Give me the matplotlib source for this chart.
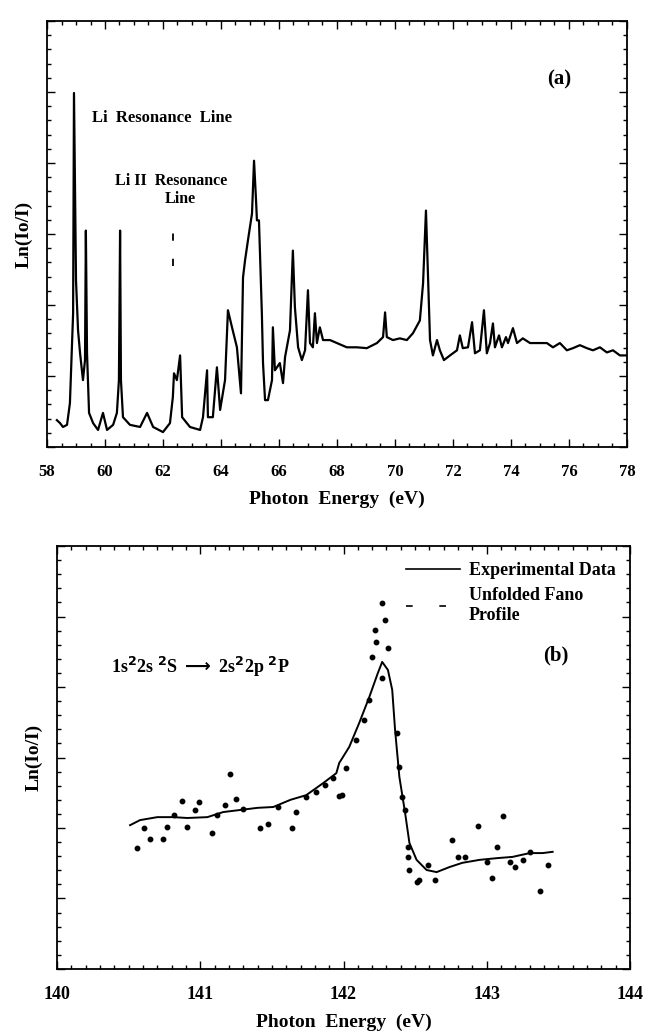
import matplotlib
matplotlib.use('Agg')
import matplotlib.pyplot as plt
from matplotlib.lines import Line2D
from matplotlib.ticker import MultipleLocator
import numpy as np

# panel (a): absorption spectrum 58-78 eV (arbitrary units, 0..10)
energy_a = [58.34, 58.45, 58.55, 58.69, 58.79, 58.90, 58.93, 58.97, 59.00, 59.07,
            59.14, 59.24, 59.31, 59.34, 59.38, 59.45, 59.59, 59.76, 59.93, 60.07,
            60.28, 60.41, 60.48, 60.52, 60.55, 60.62, 60.86, 61.21, 61.45, 61.66,
            62.00, 62.24, 62.34, 62.38, 62.48, 62.59, 62.66, 62.93, 63.28, 63.38,
            63.52, 63.55, 63.72, 63.86, 63.97, 64.14, 64.24, 64.38, 64.55, 64.69,
            64.76, 64.83, 64.93, 65.07, 65.14, 65.21, 65.24, 65.31, 65.41, 65.45,
            65.52, 65.62, 65.76, 65.79, 65.86, 66.03, 66.14, 66.21, 66.38, 66.48,
            66.55, 66.66, 66.79, 66.90, 67.00, 67.07, 67.17, 67.24, 67.31, 67.41,
            67.52, 67.76, 68.00, 68.34, 68.69, 69.03, 69.38, 69.59, 69.66, 69.72,
            69.93, 70.17, 70.41, 70.62, 70.86, 70.97, 71.07, 71.14, 71.21, 71.31,
            71.45, 71.55, 71.69, 71.90, 72.14, 72.24, 72.34, 72.52, 72.66, 72.76,
            72.93, 73.07, 73.17, 73.28, 73.38, 73.45, 73.59, 73.69, 73.83, 73.90,
            74.07, 74.21, 74.41, 74.66, 75.00, 75.24, 75.45, 75.69, 75.93, 76.14,
            76.38, 76.62, 76.83, 77.07, 77.31, 77.52, 77.76, 78.00]
lnI_a = [0.63, 0.56, 0.47, 0.52, 1.03, 3.14, 8.31, 5.78, 3.91, 2.74,
         2.20, 1.57, 2.04, 5.08, 2.20, 0.80, 0.56, 0.40, 0.80, 0.40,
         0.52, 0.80, 1.57, 5.08, 1.57, 0.70, 0.52, 0.47, 0.80, 0.47,
         0.35, 0.56, 1.17, 1.73, 1.57, 2.15, 0.70, 0.47, 0.40, 0.70,
         1.80, 0.70, 0.70, 1.87, 0.87, 1.57, 3.21, 2.81, 2.34, 1.26,
         3.98, 4.38, 4.85, 5.48, 6.72, 5.78, 5.32, 5.32, 3.14, 1.97,
         1.10, 1.10, 1.57, 2.81, 1.80, 1.97, 1.50, 2.11, 2.74, 4.61,
         3.28, 2.34, 2.04, 2.27, 3.68, 2.44, 2.34, 3.14, 2.44, 2.81,
         2.51, 2.51, 2.44, 2.34, 2.34, 2.32, 2.44, 2.58, 3.16, 2.58,
         2.51, 2.55, 2.51, 2.67, 2.97, 3.84, 5.55, 4.07, 2.51, 2.15,
         2.51, 2.27, 2.04, 2.15, 2.27, 2.62, 2.32, 2.34, 2.93, 2.20,
         2.27, 3.21, 2.20, 2.44, 2.90, 2.34, 2.62, 2.34, 2.58, 2.44,
         2.79, 2.44, 2.55, 2.44, 2.44, 2.44, 2.34, 2.44, 2.27, 2.32,
         2.39, 2.32, 2.27, 2.34, 2.22, 2.27, 2.15, 2.15]
li2_marker_E = 62.34
li2_marker_y = [4.24, 5.03]
xticks_a = [58, 60, 62, 64, 66, 68, 70, 72, 74, 76, 78]

# panel (b): 1s2 2s 2S -> 2s2 2p 2P resonance
energy_exp = [140.51, 140.58, 140.70, 140.81, 140.91, 141.05, 141.16, 141.28, 141.40,
              141.51, 141.63, 141.74, 141.86, 141.95, 141.97, 142.04, 142.11, 142.18,
              142.24, 142.27, 142.31, 142.34, 142.36, 142.39, 142.43, 142.46, 142.51,
              142.58, 142.65, 142.74, 142.83, 142.95, 143.07, 143.18, 143.30, 143.39,
              143.46]
lnI_exp = [3.40, 3.52, 3.59, 3.59, 3.57, 3.59, 3.71, 3.76, 3.81,
           3.83, 4.00, 4.11, 4.40, 4.63, 4.87, 5.25, 5.82, 6.43,
           7.00, 7.26, 7.07, 6.60, 5.65, 4.54, 3.69, 2.98, 2.58,
           2.34, 2.29, 2.41, 2.51, 2.58, 2.62, 2.65, 2.74, 2.74,
           2.77]
energy_fano = [140.56, 140.61, 140.65, 140.74, 140.77, 140.82, 140.87, 140.91, 140.96,
               140.99, 141.08, 141.12, 141.17, 141.21, 141.25, 141.30, 141.42, 141.47,
               141.54, 141.64, 141.67, 141.74, 141.81, 141.87, 141.93, 141.97, 141.99,
               142.02, 142.09, 142.14, 142.18, 142.20, 142.23, 142.22, 142.27, 142.29,
               142.31, 142.27, 142.37, 142.39, 142.41, 142.43, 142.45, 142.45, 142.46,
               142.51, 142.53, 142.59, 142.64, 142.76, 142.80, 142.85, 142.94, 143.00,
               143.04, 143.07, 143.11, 143.16, 143.20, 143.25, 143.30, 143.37, 143.43]
lnI_fano = [2.86, 3.33, 3.07, 3.07, 3.36, 3.64, 3.97, 3.36, 3.76,
            3.95, 3.22, 3.64, 3.88, 4.61, 4.02, 3.78, 3.33, 3.43,
            3.83, 3.33, 3.71, 4.07, 4.18, 4.35, 4.52, 4.09, 4.11,
            4.75, 5.41, 5.89, 6.36, 7.38, 7.73, 8.01, 8.65, 8.25,
            7.59, 6.88, 5.58, 4.78, 4.07, 3.76, 2.88, 2.65, 2.34,
            2.06, 2.10, 2.46, 2.10, 3.05, 2.65, 2.65, 3.38, 2.53,
            2.15, 2.88, 3.62, 2.53, 2.41, 2.58, 2.77, 1.84, 2.46]
xticks_b = [140, 141, 142, 143, 144]

plt.rcParams['font.family'] = ['Liberation Serif', 'DejaVu Serif']
plt.rcParams['font.weight'] = 'bold'

fig = plt.figure(figsize=(6.53, 10.34), dpi=100)
ax_a = fig.add_axes([0.072, 0.5677, 0.888, 0.412])
ax_b = fig.add_axes([0.0873, 0.0629, 0.8775, 0.409])


def style_axis(ax, xmin, xmax, xmaj, xmin_step, labsize):
    ax.set_xlim(xmin, xmax)
    ax.set_ylim(0, 10)
    ax.xaxis.set_major_locator(MultipleLocator(xmaj))
    ax.xaxis.set_minor_locator(MultipleLocator(xmin_step))
    ax.yaxis.set_major_locator(MultipleLocator(10 / 6))
    ax.yaxis.set_minor_locator(MultipleLocator(10 / 30))
    ax.tick_params(which='both', direction='in', top=True, right=True,
                   labelleft=False, labelsize=labsize, width=1.0, pad=12)
    ax.tick_params(which='major', length=6)
    ax.tick_params(which='minor', length=3)
    for s in ax.spines.values():
        s.set_linewidth(1.3)


# (a)
style_axis(ax_a, 58, 78, 2, 0.5, 12)
ax_a.set_xticks(xticks_a)
ax_a.plot(energy_a, lnI_a, color='black', lw=1.6)
ax_a.plot([li2_marker_E, li2_marker_E], li2_marker_y, color='black', lw=1.3,
          ls=(0, (4, 10)))
ax_a.text(0.078, 0.763, 'Li  Resonance  Line', transform=ax_a.transAxes,
          fontsize=12, fontweight='bold')
ax_a.text(0.117, 0.615, 'Li II  Resonance', transform=ax_a.transAxes,
          fontsize=11.5, fontweight='bold')
ax_a.text(0.203, 0.573, 'Line', transform=ax_a.transAxes,
          fontsize=11.5, fontweight='bold')
ax_a.text(0.862, 0.852, '(a)', transform=ax_a.transAxes, fontsize=15,
          fontweight='bold')
ax_a.set_xlabel('Photon  Energy  (eV)', fontsize=14, fontweight='bold', labelpad=8)
ax_a.set_ylabel('Ln(Io/I)', fontsize=14, fontweight='bold', labelpad=10)

# (b)
style_axis(ax_b, 140, 144, 1, 0.1, 13)
ax_b.set_xticks(xticks_b)
ax_b.plot(energy_exp, lnI_exp, color='black', lw=1.4)
ax_b.plot(energy_fano, lnI_fano, ls='none', marker='o', ms=3.2, color='black')
ax_b.text(0.095, 0.70, r'1s$^2$2s $^2$S $\longrightarrow$ 2s$^2$2p $^2$P',
          transform=ax_b.transAxes, fontsize=13, fontweight='bold')
ax_b.text(0.848, 0.73, '(b)', transform=ax_b.transAxes, fontsize=15,
          fontweight='bold')
handles = [Line2D([], [], color='black', lw=1.2),
           Line2D([], [], color='black', lw=1.2, ls=(0, (4, 16)))]
ax_b.legend(handles, ['Experimental Data', 'Unfolded Fano\nProfile'],
            loc='upper left', bbox_to_anchor=(0.58, 1.0), frameon=False,
            fontsize=13, handlelength=3.0, handletextpad=0.5, labelspacing=0.45)
ax_b.set_xlabel('Photon  Energy  (eV)', fontsize=14, fontweight='bold', labelpad=8)
ax_b.set_ylabel('Ln(Io/I)', fontsize=14, fontweight='bold', labelpad=10)

fig.savefig('out.png', dpi=100)
